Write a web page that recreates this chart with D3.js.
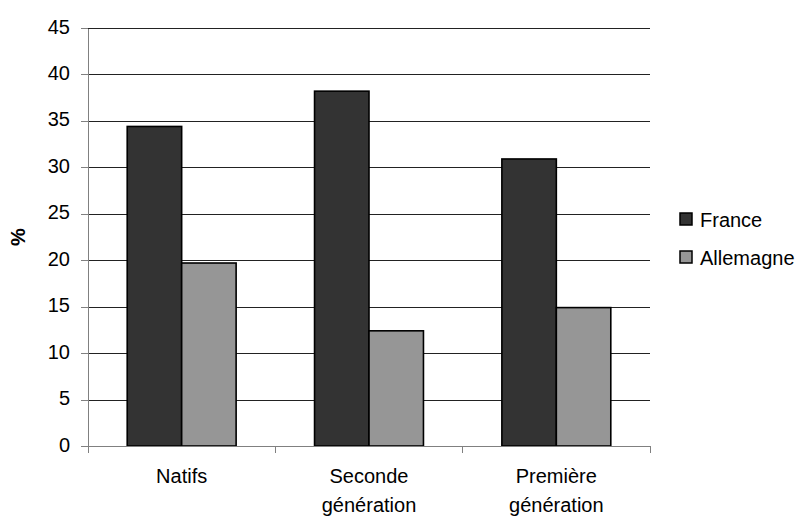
<!DOCTYPE html>
<html><head><meta charset="utf-8">
<script src="https://cdn.jsdelivr.net/npm/d3@7"></script>
<style>body{margin:0;background:#fff}svg{display:block}text{font-family:"Liberation Sans",Arial,sans-serif}</style>
</head><body>
<svg id="c" width="800" height="519"></svg>
<script>
const categories = [["Natifs"], ["Seconde", "génération"], ["Première", "génération"]];
const seriesNames = ["France", "Allemagne"];
const france = [34.4, 38.2, 30.9];
const allemagne = [19.7, 12.4, 14.9];
const yTicks = [0, 5, 10, 15, 20, 25, 30, 35, 40, 45];
const colors = ["#333333", "#969696"];

const svg = d3.select("#c");
const L = 88, R = 650, T = 28, B = 446;
const FS = 20;
const keys = categories.map((c, i) => i);
const x0 = d3.scaleBand().domain(keys).range([L, R]).paddingInner(0).paddingOuter(0);
const x1 = d3.scaleBand().domain(seriesNames).range([0, x0.bandwidth()]).paddingInner(0).paddingOuter(0.72);
const y = d3.scaleLinear().domain([0, 45]).range([B, T]);

// gridlines
svg.append("g").selectAll("line").data(yTicks.filter(d => d > 0)).join("line")
  .attr("x1", L).attr("x2", R).attr("y1", d => Math.round(y(d)) + 0.5).attr("y2", d => Math.round(y(d)) + 0.5)
  .attr("stroke", "#222").attr("stroke-width", 1);

// y axis
const yAxis = svg.append("g").attr("transform", `translate(${L},0)`)
  .call(d3.axisLeft(y).tickValues(yTicks).tickSize(7).tickPadding(11).tickSizeOuter(0));
yAxis.select(".domain").attr("stroke", "#808080").attr("shape-rendering", "crispEdges");
yAxis.selectAll(".tick line").attr("stroke", "#808080").attr("shape-rendering", "crispEdges");
yAxis.selectAll("text").attr("font-size", FS).attr("fill", "#000").attr("dy", "0.25em");

// bars
const data = keys.map(i => ({i, vals: [france[i], allemagne[i]]}));
const g = svg.append("g").selectAll("g").data(data).join("g")
  .attr("transform", d => `translate(${x0(d.i)},0)`);
g.selectAll("rect").data(d => d.vals.map((v, k) => ({k, v}))).join("rect")
  .attr("x", d => x1(seriesNames[d.k])).attr("width", x1.bandwidth())
  .attr("y", d => y(d.v)).attr("height", d => B - y(d.v))
  .attr("fill", d => colors[d.k]).attr("stroke", "#000").attr("stroke-width", 1.6);

// x axis
const xa = svg.append("g");
xa.append("line").attr("x1", L).attr("x2", R).attr("y1", B + 0.5).attr("y2", B + 0.5)
  .attr("stroke", "#808080");
const bounds = keys.map(i => x0(i)).concat([R]);
xa.selectAll("line.t").data(bounds).join("line").attr("class", "t")
  .attr("x1", d => d).attr("x2", d => d).attr("y1", B).attr("y2", B + 7)
  .attr("stroke", "#808080").attr("shape-rendering", "crispEdges");
xa.selectAll("text").data(keys).join("text")
  .attr("x", i => x0(i) + x0.bandwidth() / 2).attr("y", 483)
  .attr("text-anchor", "middle").attr("font-size", FS).attr("fill", "#000")
  .each(function(i) {
    d3.select(this).selectAll("tspan").data(categories[i]).join("tspan")
      .attr("x", x0(i) + x0.bandwidth() / 2).attr("dy", (d, j) => j === 0 ? 0 : 29).text(d => d);
  });

// y label
svg.append("text").attr("transform", "translate(25,237) rotate(-90)")
  .attr("text-anchor", "middle").attr("font-size", FS).attr("font-weight", "bold").text("%");

// legend
const lg = svg.append("g").selectAll("g").data(seriesNames).join("g")
  .attr("transform", (d, k) => `translate(680,${213 + k * 38})`);
lg.append("rect").attr("width", 12).attr("height", 12)
  .attr("fill", (d, k) => colors[k]).attr("stroke", "#000").attr("stroke-width", 1.5);
lg.append("text").attr("x", 20).attr("y", 14).attr("font-size", FS).text(d => d);
</script>
</body></html>
